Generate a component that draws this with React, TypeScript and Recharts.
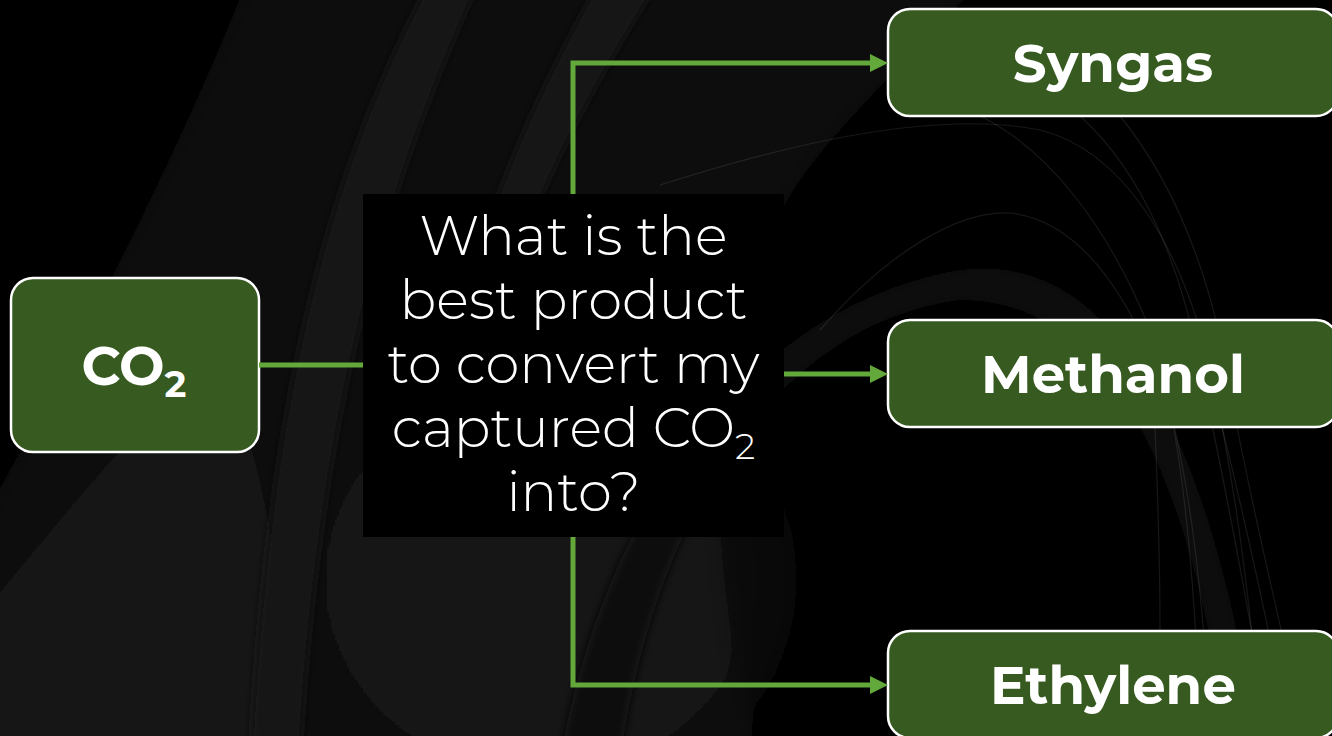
import React from 'react';
import { ComposedChart, XAxis, YAxis, Scatter, ReferenceArea } from 'recharts';

// ---- data (diagram coordinates in a 1332 x 736 data space) ----
const nodeNames = ['CO', 'Syngas', 'Methanol', 'Ethylene'];
const nodeSubs = ['2', '', '', ''];
const nodeX1 = [11, 888, 888, 888];
const nodeX2 = [259, 1338, 1338, 1338];
const nodeY1 = [278, 9, 320, 631];
const nodeY2 = [452, 116, 427, 738];

const questionLines = ['What is the', 'best product', 'to convert my', 'captured CO', 'into?'];
const questionSubs = ['', '', '', '2', ''];
const questionBox = { x1: 363, x2: 784, y1: 194, y2: 537 };

const linkCo2 = [{ x: 259, y: 365 }, { x: 363, y: 365 }];
const linkUp = [{ x: 573, y: 194 }, { x: 573, y: 63 }, { x: 872, y: 63 }];
const linkMid = [{ x: 784, y: 374 }, { x: 872, y: 374 }];
const linkDown = [{ x: 573, y: 537 }, { x: 573, y: 685 }, { x: 872, y: 685 }];
const arrowTips = [{ x: 888, y: 63 }, { x: 888, y: 374 }, { x: 888, y: 685 }];

const GREEN = '#62a83b';
const BOX = '#365a20';
const W = 1332;
const H = 736;

const Arrow = (p: any) => {
  const { cx, cy } = p;
  if (cx == null || cy == null) return <g />;
  return <path d={`M${cx},${cy} L${cx - 18},${cy - 9} L${cx - 18},${cy + 9} Z`} fill={GREEN} />;
};

const NoDot = () => <g />;

const makeNodeShape = (i: number) => (p: any) => {
  const { x, y, width, height } = p;
  const cy = y + height / 2;
  const first = i === 0;
  const tx = first ? x + width / 2 - 1 : x + 225;
  return (
    <g>
      <rect x={x} y={y} width={width} height={height} rx={22} ry={22} fill={BOX} stroke="#ffffff" strokeWidth={2.5} />
      <text
        x={tx}
        y={first ? cy + 20 : cy + 19}
        textAnchor="middle"
        fill="#ffffff"
        fontFamily="Montserrat, 'Open Sans', Lato, sans-serif"
        fontWeight={700}
        fontSize={first ? 54 : 53}
      >
        {nodeNames[i]}
        {nodeSubs[i] ? (
          <tspan fontSize={37} dy={12}>{nodeSubs[i]}</tspan>
        ) : null}
      </text>
    </g>
  );
};

const QuestionShape = (p: any) => {
  const { x, y, width, height } = p;
  const cx = x + width / 2;
  return (
    <g>
      <rect x={x} y={y} width={width} height={height} fill="#000000" />
      {questionLines.map((t, k) => (
        <text
          key={k}
          x={cx}
          y={y + 61 + k * 64}
          textAnchor="middle"
          fill="#ffffff"
          fontFamily="Montserrat, 'Open Sans', Lato, sans-serif"
          fontWeight={300}
          fontSize={54.5}
        >
          {t}
          {questionSubs[k] ? (
            <tspan fontSize={36} dy={12}>{questionSubs[k]}</tspan>
          ) : null}
        </text>
      ))}
    </g>
  );
};

// decorative abstract background (not data)
const Background = () => (
  <svg width={W} height={H} style={{ position: 'absolute', left: 0, top: 0 }}>
    <defs>
      <filter id="soft" x="-20%" y="-20%" width="140%" height="140%">
        <feGaussianBlur stdDeviation="10" />
      </filter>
      <filter id="soft2" x="-20%" y="-20%" width="140%" height="140%">
        <feGaussianBlur stdDeviation="4" />
      </filter>
      <radialGradient id="glow" cx="0.5" cy="0.5" r="0.5">
        <stop offset="0" stopColor="#181818" />
        <stop offset="1" stopColor="#181818" stopOpacity="0" />
      </radialGradient>
    </defs>
    <rect x={0} y={0} width={W} height={H} fill="#000" />
    <g filter="url(#soft)">
      <path d="M255,-40 C190,130 90,330 -40,560 L-40,780 L760,780 C700,520 700,330 800,180 C850,110 920,50 1000,-40 Z" fill="#0e0e0e" />
      <path d="M-40,640 C60,520 130,430 210,360 C260,420 280,560 300,780 L-40,780 Z" fill="#121212" />
      <ellipse cx={540} cy={580} rx={330} ry={300} fill="url(#glow)" />
    </g>
    <g filter="url(#soft2)">
      <path d="M430,-20 C340,150 270,360 250,760 L300,760 C320,420 380,200 480,-20 Z" fill="#151515" />
      <path d="M600,-20 C520,120 470,250 440,400 C450,405 460,405 470,400 C510,250 570,120 660,-20 Z" fill="#141414" />
      <path d="M560,760 C610,470 780,300 960,270 C1110,250 1210,420 1260,760 L1230,760 C1190,450 1100,300 960,300 C800,320 660,480 620,760 Z" fill="#0d0d0d" />
    </g>
    <g fill="none" stroke="#ffffff" strokeOpacity={0.09} strokeWidth={1.2}>
      <path d="M660,185 C800,140 940,110 1040,130 C1120,150 1180,240 1210,368 C1235,480 1250,600 1262,736" />
      <path d="M820,330 C890,250 960,210 1010,213 C1080,220 1140,300 1175,430 C1195,520 1205,620 1210,736" />
      <path d="M980,116 C1050,150 1110,230 1150,330 C1180,420 1195,560 1200,736" />
      <path d="M1080,116 C1140,170 1180,260 1200,368 C1220,460 1240,560 1270,736" />
      <path d="M1120,116 C1180,190 1215,290 1232,400 C1250,500 1275,600 1305,736" />
      <path d="M1155,427 C1158,500 1160,570 1160,631" />
      <path d="M1222,427 C1235,480 1255,560 1290,736" />
    </g>
  </svg>
);

export default function App() {
  return (
    <div style={{ position: 'fixed', left: 0, top: 0, width: W, height: H, background: '#000', overflow: 'hidden' }}>
      <Background />
      <div style={{ position: 'absolute', left: 0, top: 0 }}>
        <ComposedChart width={W} height={H} margin={{ top: 0, right: 0, bottom: 0, left: 0 }}>
          <XAxis type="number" dataKey="x" domain={[0, W]} hide allowDataOverflow />
          <YAxis type="number" dataKey="y" domain={[0, H]} reversed hide allowDataOverflow />
          <Scatter data={linkCo2} dataKey="y" line={{ stroke: GREEN, strokeWidth: 5 }} shape={NoDot} isAnimationActive={false} />
          <Scatter data={linkUp} dataKey="y" line={{ stroke: GREEN, strokeWidth: 5 }} shape={NoDot} isAnimationActive={false} />
          <Scatter data={linkMid} dataKey="y" line={{ stroke: GREEN, strokeWidth: 5 }} shape={NoDot} isAnimationActive={false} />
          <Scatter data={linkDown} dataKey="y" line={{ stroke: GREEN, strokeWidth: 5 }} shape={NoDot} isAnimationActive={false} />
          <Scatter data={arrowTips} dataKey="y" shape={Arrow} isAnimationActive={false} />
          <ReferenceArea
            x1={questionBox.x1}
            x2={questionBox.x2}
            y1={questionBox.y1}
            y2={questionBox.y2}
            ifOverflow="visible"
            shape={QuestionShape}
          />
          {nodeNames.map((n, i) => (
            <ReferenceArea
              key={n}
              x1={nodeX1[i]}
              x2={nodeX2[i]}
              y1={nodeY1[i]}
              y2={nodeY2[i]}
              ifOverflow="visible"
              shape={makeNodeShape(i)}
            />
          ))}
        </ComposedChart>
      </div>
    </div>
  );
}
